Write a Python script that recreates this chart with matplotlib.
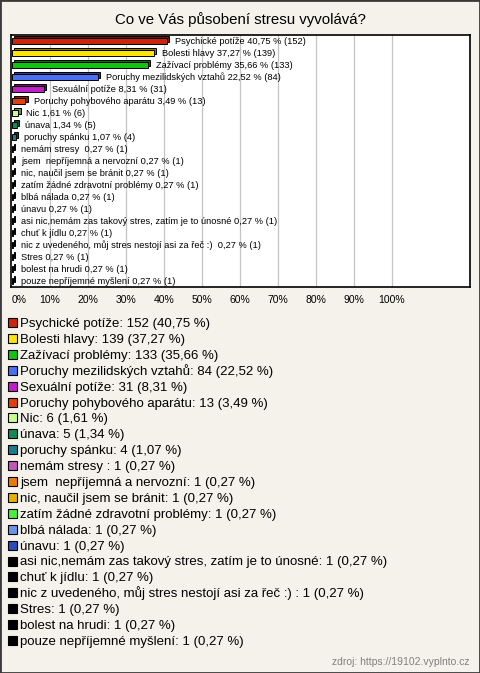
"""Survey bar chart: Co ve Vás působení stresu vyvolává?"""

import matplotlib

matplotlib.use("Agg")
import matplotlib.pyplot as plt
import matplotlib.transforms as mtransforms
from matplotlib.colors import to_rgb
from matplotlib.patches import Rectangle

plt.rcParams["font.family"] = ["Liberation Sans", "DejaVu Sans"]

TITLE = "Co ve Vás působení stresu vyvolává?"
SOURCE = "zdroj: https://19102.vyplnto.cz"

answers = [
    "Psychické potíže",
    "Bolesti hlavy",
    "Zažívací problémy",
    "Poruchy mezilidských vztahů",
    "Sexuální potíže",
    "Poruchy pohybového aparátu",
    "Nic",
    "únava",
    "poruchy spánku",
    "nemám stresy ",
    "jsem  nepříjemná a nervozní",
    "nic, naučil jsem se bránit",
    "zatím žádné zdravotní problémy",
    "blbá nálada",
    "únavu",
    "asi nic,nemám zas takový stres, zatím je to únosné",
    "chuť k jídlu",
    "nic z uvedeného, můj stres nestojí asi za řeč :) ",
    "Stres",
    "bolest na hrudi",
    "pouze nepříjemné myšlení",
]
counts = [152, 139, 133, 84, 31, 13, 6, 5, 4, 1, 1, 1, 1, 1, 1, 1, 1, 1, 1, 1, 1]
percents = [40.75, 37.27, 35.66, 22.52, 8.31, 3.49, 1.61, 1.34, 1.07,
            0.27, 0.27, 0.27, 0.27, 0.27, 0.27, 0.27, 0.27, 0.27, 0.27, 0.27, 0.27]
x_ticks = [0, 10, 20, 30, 40, 50, 60, 70, 80, 90, 100]

colors = [
    "#c8260f", "#ffe40a", "#14c214", "#4a6ff0", "#c21ec8", "#e0400e",
    "#c8ff8c", "#138a55", "#1a7c8c", "#c058b8", "#ec7a08", "#e6b000",
    "#48f03a", "#6a96ea", "#2a4cbc",
    "#000000", "#000000", "#000000", "#000000", "#000000", "#000000",
]

BG = "#f4f2ea"
W, H = 480, 673


def fmt(v):
    return f"{v:.2f}".replace(".", ",")


def darker(c, f=0.55):
    r, g, b = to_rgb(c)
    return (r * f, g * f, b * f)


fig = plt.figure(figsize=(W / 100, H / 100), dpi=100, facecolor=BG)
fig.patches.append(Rectangle((0, 0), 1, 1, transform=fig.transFigure,
                             fill=False, edgecolor="#3a3a3a", linewidth=2))

fig.text(0.5, 1 - 20 / H, TITLE, ha="center", va="center", fontsize=10.8)

# plot area in pixel coordinates
left, right, top, bottom = 11, 470, 35, 287
ax = fig.add_axes([left / W, 1 - bottom / H, (right - left) / W, (bottom - top) / H])
ax.set_facecolor("white")
n = len(answers)
ax.set_xlim(-1 / 3.8, (right - 12) / 3.8)
ax.set_ylim(n - 0.5, -0.5)

for sp in ax.spines.values():
    sp.set_color("#000000")
    sp.set_linewidth(1.2)

for t in x_ticks[1:]:
    ax.axvline(t, color="#c4c4c4", linewidth=0.9, zorder=0)

ax.set_xticks(x_ticks)
ax.set_xticklabels([f"{t}%" for t in x_ticks], fontsize=7.5)
ax.get_xticklabels()[0].set_ha("left")
ax.tick_params(axis="x", length=0, pad=6)
ax.set_yticks([])

ys = list(range(n))
depth = mtransforms.offset_copy(ax.transData, fig=fig, x=2.4, y=2.0, units="dots")
ax.barh(ys, percents, height=0.45, color=[darker(c) for c in colors],
        edgecolor="black", linewidth=0.7, transform=depth, zorder=2)
ax.barh(ys, percents, height=0.45, color=colors,
        edgecolor="black", linewidth=0.7, zorder=3)

for y, name, p, c in zip(ys, answers, percents, counts):
    ax.annotate(f"{name} {fmt(p)} % ({c})", (p, y), xytext=(6, 0),
                textcoords="offset points", va="center", ha="left",
                fontsize=6.7, zorder=4)

# legend list below the chart
y0, step = 322.5, 15.9
for i, (name, p, c, col) in enumerate(zip(answers, percents, counts, colors)):
    yc = y0 + i * step
    fig.patches.append(Rectangle((8 / W, 1 - (yc + 4.5) / H), 9 / W, 9 / H,
                                 transform=fig.transFigure, facecolor=col,
                                 edgecolor="black", linewidth=0.8))
    fig.text(20 / W, 1 - (yc + 4.5) / H, f"{name}: {c} ({fmt(p)} %)",
             ha="left", va="baseline", fontsize=9.5)

fig.text(470 / W, 1 - 662 / H, SOURCE, ha="right", va="center",
         fontsize=7.5, color="#808080")

fig.savefig("out.png", dpi=100, facecolor=BG)
plt.close(fig)
